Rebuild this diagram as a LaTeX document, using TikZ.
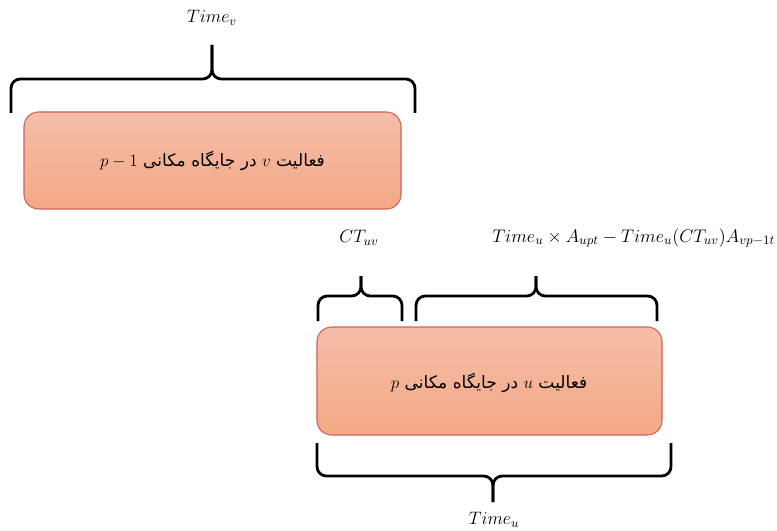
\RequirePackage{fix-cm}
\documentclass[tikz,border=0pt]{standalone}
\usepackage{fontspec}
\newfontfamily\arabicfont[Script=Arabic]{DejaVu Sans}
\TeXXeTstate=1
\definecolor{boxtop}{HTML}{F5BEA8}
\definecolor{boxbot}{HTML}{F4A886}
\definecolor{boxline}{HTML}{D0605C}
\tikzset{
  actbox/.style={draw=boxline, line width=0.8pt, rounded corners=11pt, top color=boxtop, bottom color=boxbot, inner sep=0pt},
  bracepath/.style={draw=black, line width=2.1pt, rounded corners=7pt},
  lbl/.style={inner sep=0pt, font=\fontsize{13.5}{16}\selectfont},
  lbllong/.style={inner sep=0pt, font=\fontsize{13.7}{17}\selectfont},
  intext/.style={inner sep=0pt, font=\arabicfont\fontsize{12.8}{15}\selectfont}
}
\newcommand\wbrace[6]{% x1, x2, xtip, ybar, yend, ytip
  \draw[bracepath] (#1,#5) -- (#1,#4) -- (#3,#4) -- (#3,#6);
  \draw[bracepath] (#2,#5) -- (#2,#4) -- (#3,#4) -- (#3,#6);
}
\begin{document}
\begin{tikzpicture}[x=0.75pt,y=-0.75pt]
\useasboundingbox (0,0) rectangle (777,531);
% boxes
\path[actbox] (24,112) rectangle (401,209);
\node[intext] (t1) at (212.5,160.5) {\beginR فعالیت $v$ در جایگاه مکانی $p-1$\endR};
\path[actbox] (317,327) rectangle (662,435);
\node[intext] (t2) at (489,383) {\beginR فعالیت $u$ در جایگاه مکانی $p$\endR};
% braces
\wbrace{11}{415}{212}{79}{113}{45}
\wbrace{318}{402}{361}{296}{321}{276}
\wbrace{416}{657}{536}{296}{321}{276}
\wbrace{317}{671}{493}{476}{443}{502}
% labels
\node[lbl] (lv) at (212,18) {$Time_v$};
\node[lbl] (lct) at (359,238) {$CT_{uv}$};
\node[lbllong, anchor=west] (llong) at (492,238) {$Time_u\times A_{upt}-Time_u(CT_{uv})A_{vp-1t}$};
\node[lbl] (lu) at (494,520) {$Time_u$};
\end{tikzpicture}
\end{document}
